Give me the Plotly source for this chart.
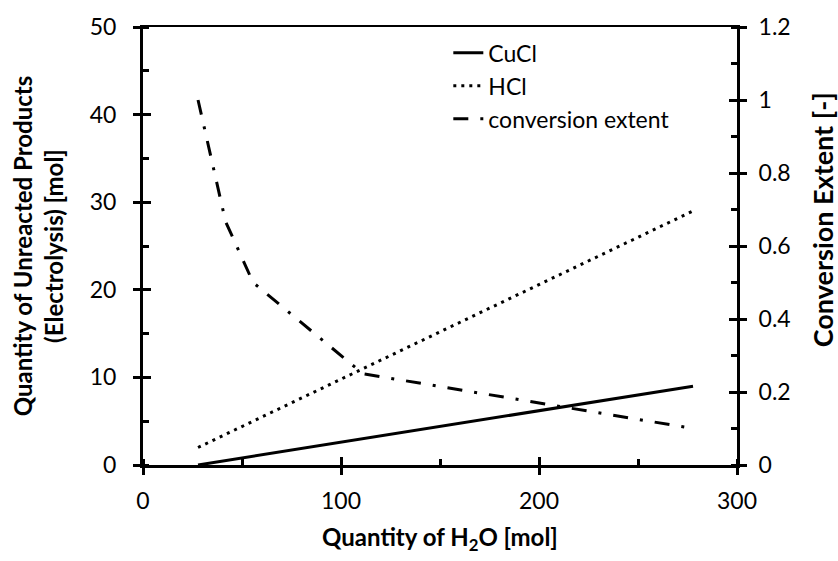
import plotly.graph_objects as go

# data
h2o = [27.8, 41.7, 55.6, 111.1, 277.8]
cucl = [0.0, 0.5, 1.0, 3.0, 9.0]
hcl = [2.0, 3.5, 5.0, 11.0, 29.0]
conversion = [1.0, 0.667, 0.5, 0.25, 0.1]

x_ticks = [0, 100, 200, 300]
y_ticks = [0, 10, 20, 30, 40, 50]
y2_ticks = [0, 0.2, 0.4, 0.6, 0.8, 1, 1.2]

FONT = "Lato"
BLACK = "black"

fig = go.Figure()
fig.add_trace(go.Scatter(x=h2o, y=cucl, name="CuCl", mode="lines",
                         line=dict(color=BLACK, width=3, dash="solid"),
                         xaxis="x", yaxis="y"))
fig.add_trace(go.Scatter(x=h2o, y=hcl, name="HCl", mode="lines",
                         line=dict(color=BLACK, width=3, dash="3px,5px"),
                         xaxis="x", yaxis="y"))
fig.add_trace(go.Scatter(x=h2o, y=conversion, name="conversion extent", mode="lines",
                         line=dict(color=BLACK, width=3, dash="15px,12px,3px,12px"),
                         xaxis="x", yaxis="y2"))
# empty traces to realize overlay axes used for crossing tick marks / top frame
fig.add_trace(go.Scatter(x=[], y=[], xaxis="x2", yaxis="y3", showlegend=False, hoverinfo="skip"))
fig.add_trace(go.Scatter(x=[], y=[], xaxis="x2", yaxis="y4", showlegend=False, hoverinfo="skip"))
fig.add_trace(go.Scatter(x=[], y=[], xaxis="x3", yaxis="y", showlegend=False, hoverinfo="skip"))

tickfont = dict(family=FONT, size=23, color=BLACK)
titlefont = dict(family=FONT, size=24, color=BLACK, weight="bold")

common_line = dict(showline=True, linecolor=BLACK, linewidth=3, showgrid=False,
                   zeroline=False, tickcolor=BLACK, tickwidth=3)

fig.update_layout(
    width=838, height=561,
    margin=dict(l=143, r=101, t=25, b=96),
    paper_bgcolor="white", plot_bgcolor="white",
    font=dict(family=FONT, color=BLACK),
    showlegend=True,
    legend=dict(x=0.514, y=0.99, xanchor="left", yanchor="top",
                font=dict(family=FONT, size=23, color=BLACK),
                bgcolor="rgba(0,0,0,0)", itemwidth=30, tracegroupgap=0),
    xaxis=dict(range=[0, 300], tickvals=x_ticks, ticks="outside", ticklen=7,
               tickfont=tickfont, ticklabelstandoff=6,
               title=dict(text="Quantity of H<sub>2</sub>O [mol]", font=titlefont, standoff=17),
               minor=dict(dtick=50, ticks="inside", ticklen=6, tickwidth=3, tickcolor=BLACK, showgrid=False),
               **common_line),
    xaxis2=dict(range=[0, 300], overlaying="x", anchor="y", side="bottom",
                tickvals=x_ticks, ticks="inside", ticklen=8, showticklabels=False,
                **common_line),
    xaxis3=dict(range=[0, 300], overlaying="x", anchor="y", side="top",
                showline=True, linecolor=BLACK, linewidth=1.5, ticks="",
                showticklabels=False, showgrid=False, zeroline=False),
    yaxis=dict(range=[0, 50], tickvals=y_ticks, ticks="outside", ticklen=7,
               tickfont=tickfont, ticklabelstandoff=12,
               title=dict(text="Quantity of Unreacted Products<br>(Electrolysis) [mol]", font=titlefont, standoff=20),
               minor=dict(dtick=5, ticks="inside", ticklen=6, tickwidth=3, tickcolor=BLACK, showgrid=False),
               **common_line),
    yaxis2=dict(range=[0, 1.2], tickvals=y2_ticks, overlaying="y", side="right", anchor="x",
                ticks="outside", ticklen=7, tickfont=tickfont, ticklabelstandoff=7,
                minor=dict(dtick=0.1, ticks="inside", ticklen=6, tickwidth=3, tickcolor=BLACK, showgrid=False),
                **common_line),
    yaxis3=dict(range=[0, 50], tickvals=y_ticks, overlaying="y", side="left", anchor="x2",
                ticks="inside", ticklen=8, showticklabels=False, **common_line),
    yaxis4=dict(range=[0, 1.2], tickvals=y2_ticks, overlaying="y", side="right", anchor="x2",
                ticks="inside", ticklen=8, showticklabels=False, **common_line),
    annotations=[dict(text="Conversion Extent [-]", xref="paper", yref="paper",
                      x=1.143, y=0.561, xanchor="center", yanchor="middle",
                      textangle=-90, showarrow=False,
                      font=dict(family=FONT, size=27, color=BLACK, weight="bold"))],
)

fig.write_html("out.html")
